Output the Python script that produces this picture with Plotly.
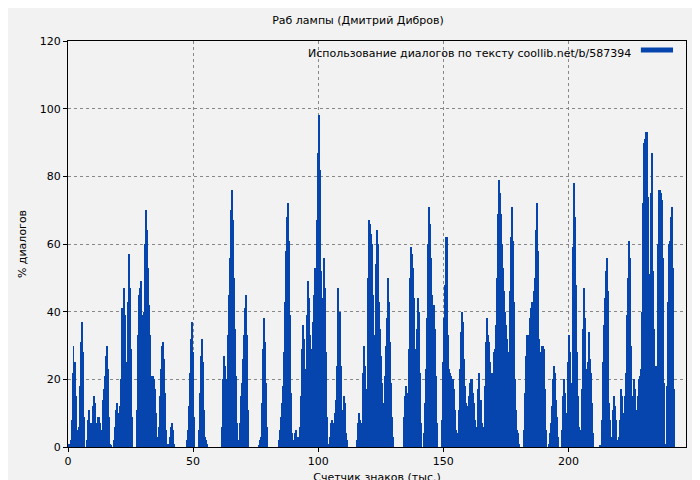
import plotly.graph_objects as go

STEP = 0.4
seg_starts = [0, 64, 124, 184]
seg1 = [1,1,2,8,22,30,25,15,5,0, 6,18,31,37,28,9,0,0,2,8, 11,7,5,7,12,15,13,7,2,9,
        9,7,4,5,14,17,21,27,30,23, 9,1,0.5,0,0,2,6,11,13,10, 4,12,20,41,40,47,39,25,17,43,
        57,47,29,9,0,0,0,0,11,33, 45,47,49,39,21,40,60,70,64,53, 42,33,21,21,21,20,17,10,3,1,
        6,15,23,30,31,26,16,5,1,0, 1,3,6,7,5,1] + [0]*12 + [2,5,12,22,32,37,28,9,0,0,0,0,
        5,16,27,32,25,11,3,2,1] + [0]*14 + [6,20,27,24,20,20,33]
seg2 = [45,56,70,76,67,50,35,21,7,0, 2,7,15,19,26,33,41,45,33,11, 0] + [0]*9 + [
        0.5,2,3,13,29,38,31,19,6,0] + [0]*10 + [2,5,9,13,18,28,43,58,68,72,
        61,39,16,4,1,2,4,5,3,1, 3,6,15,29,36,32,23,19,39,49, 44,33,22,29,37,45,53,53,67,87,
        98,82,52,22,44,56,47,28,9,0, 1,3,7,8,7,6,10,14,24,47, 40,40,24,8,11,15,13,4,2] + [0]*9 + [
        2,7,10,8,5,7,22,30,24,15, 17,50,67,66,63,60,45,17,33,54, 64,60]
seg3 = [43,35,27,19,13,12,21,30,38,50, 43,31,19,9,3,0] + [0]*9 + [
        9,15,18,16,10,29,50,59,57,53, 44,29,16,35,44,40,22,7,0,0, 4,13,23,38,60,71,66,56,45,42,
        42,35,21,7,0,0,0,0,8,25, 38,48,62,62,33,23,22,21,20,20, 17,11,5,3,4,11,23,34,40,37,
        26,18,13,12,12,15,19,20,20,16, 13,8,5,6,17,22,13,14,7,3, 6,18,31,38,33,31,25,22,19,22,
        28,29,36,50,69,79,75,69,60,53, 46,40,36,32,28,28,46,62,71,61, 43,20,11,5,4,1,0,0,0,0,
        5,16,27,33,33]
seg4 = [33,38,41,43,36,46,50,64,72,58, 32,24,28,30,30,29,17,5,0,0, 1,4,7,12,20,24,22,14,9,3,
        0,0,0,5,15,20,16,10,8,25, 33,28,17,19,59,78,68,48,28,15, 6,3,5,17,35,47,38,23,8,25,
        34,26,22,13,4,0,0,0,0,0, 0,0.3,0.5,8,25,36,44,52,56,46, 13,8,3,1,11,15,12,8,2,0,
        3,8,17,15,8,10,15,22,39,50, 61,56,30,10,15,20,17,11,6,15, 20,21,23,40,72,90,91,93,93,74,
        35,51,75,87,52,35,24,24,23,60, 76,76,75,73,56,19,1,0.5,18,43, 60,61,68,71,53,17,0]

x_tick_vals = [0, 50, 100, 150, 200]
y_tick_vals = [0, 20, 40, 60, 80, 100, 120]
title = "Раб лампы (Дмитрий Дибров)"
legend_text = "Использование диалогов по тексту coollib.net/b/587394"

xs, ys = [], []
for start, seg in zip(seg_starts, [seg1, seg2, seg3, seg4]):
    for i, v in enumerate(seg):
        xs.append(start + i * STEP + STEP / 2)
        ys.append(v)

BLUE = "#0645ad"
fig = go.Figure()
fig.add_trace(go.Bar(x=xs, y=ys, width=STEP, marker=dict(color=BLUE, line=dict(width=0)),
                     showlegend=False))
fig.update_layout(
    width=700, height=480,
    paper_bgcolor="#f2f2f2", plot_bgcolor="#f2f2f2",
    margin=dict(l=60, r=22, t=33, b=41, autoexpand=False),
    font=dict(family="DejaVu Sans", size=11, color="black"),
    bargap=0,
    title=dict(text=title, x=0.5, xanchor="center", y=0.982, yanchor="top",
               font=dict(size=11)),
    showlegend=False,
)
axis_common = dict(showline=True, linecolor="black", linewidth=1, mirror=True,
                   ticks="outside", ticklen=4, tickcolor="black", automargin=False,
                   showgrid=True, gridcolor="#888888", griddash="dot", gridwidth=1,
                   zeroline=False, tickfont=dict(size=11))
fig.update_xaxes(range=[0, 247], tickvals=x_tick_vals,
                 title=dict(text="Счетчик знаков (тыс.)", standoff=6, font=dict(size=11)),
                 **axis_common)
fig.update_yaxes(range=[0, 120], tickvals=y_tick_vals,
                 title=dict(text="% диалогов", standoff=10, font=dict(size=11)),
                 **axis_common)
fig.add_annotation(text=legend_text, xref="paper", yref="paper", x=0.915, y=0.99,
                   xanchor="right", yanchor="top", showarrow=False, font=dict(size=11))
fig.add_shape(type="line", xref="paper", yref="paper", x0=0.927, x1=0.979, y0=0.978, y1=0.978,
              line=dict(color=BLUE, width=5))
fig.write_html("out.html")
